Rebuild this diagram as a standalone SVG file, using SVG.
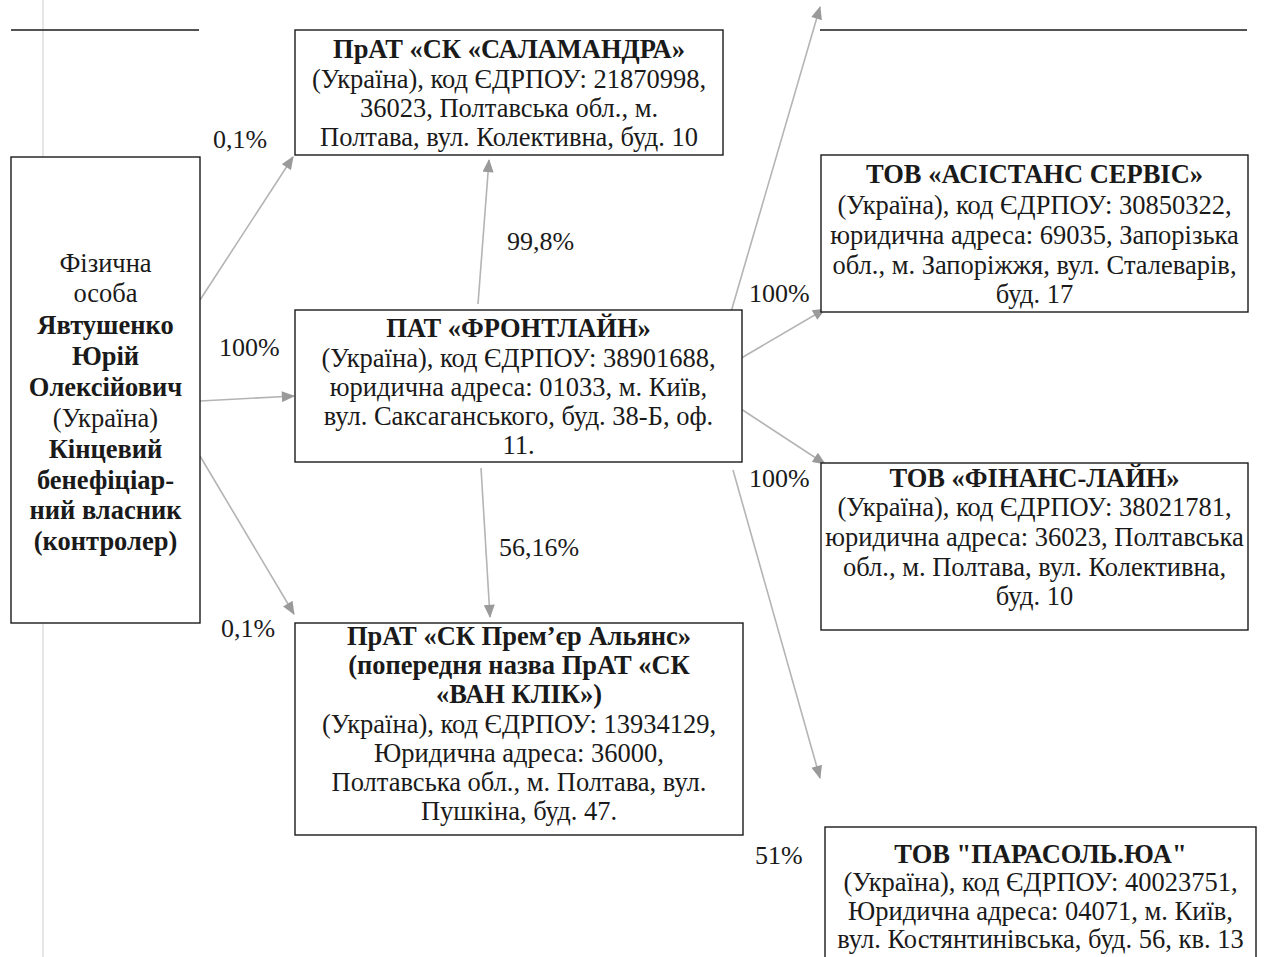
<svg xmlns="http://www.w3.org/2000/svg" width="1285" height="957" viewBox="0 0 1285 957">
<defs>
<style>
.box{fill:#fff;stroke:#1a1a1a;stroke-width:1.4}
.t{font-family:"Liberation Serif","Times New Roman",serif;font-size:26.5px;fill:#1a1a1a;text-anchor:middle}
.b{font-weight:bold}
.lbl{font-family:"Liberation Serif","Times New Roman",serif;font-size:26px;fill:#1a1a1a}
.con{stroke:#b4b4b4;stroke-width:1.6;fill:none;marker-end:url(#ah)}
.rule{stroke:#1a1a1a;stroke-width:1.3}
</style>
<marker id="ah" viewBox="0 0 12 10" refX="11" refY="5" markerWidth="14" markerHeight="11" markerUnits="userSpaceOnUse" orient="auto"><path d="M0,0 L12,5 L0,10 z" fill="#9a9a9a"/></marker>
</defs>
<rect width="1285" height="957" fill="#fff"/>
<line x1="43" y1="0" x2="43" y2="957" stroke="#e6e6e6" stroke-width="2"/>
<line class="rule" x1="11" y1="30" x2="199" y2="30"/>
<line class="rule" x1="820" y1="30" x2="1247" y2="30"/>

<g id="connectors">
<line class="con" x1="200" y1="300" x2="293" y2="157"/>
<line class="con" x1="200" y1="401" x2="294" y2="396"/>
<line class="con" x1="200" y1="456" x2="294" y2="614"/>
<line class="con" x1="478" y1="304" x2="489" y2="160"/>
<line class="con" x1="481" y1="468" x2="490" y2="617"/>
<line class="con" x1="731" y1="312" x2="820" y2="7"/>
<line class="con" x1="738" y1="360" x2="825" y2="309"/>
<line class="con" x1="738" y1="407" x2="825" y2="464"/>
<line class="con" x1="733" y1="470" x2="820" y2="778"/>
</g>

<g id="labels">
<text class="lbl" x="213" y="148">0,1%</text>
<text class="lbl" x="219" y="356">100%</text>
<text class="lbl" x="221" y="637">0,1%</text>
<text class="lbl" x="507" y="250">99,8%</text>
<text class="lbl" x="499" y="556">56,16%</text>
<text class="lbl" x="749" y="302">100%</text>
<text class="lbl" x="749" y="487">100%</text>
<text class="lbl" x="755" y="864">51%</text>
</g>

<g id="n-person">
<rect class="box" x="11" y="157" width="189" height="466"/>
<text class="t" x="105.5" y="272">Фізична</text>
<text class="t" x="105.5" y="302">особа</text>
<text class="t b" x="105.5" y="334">Явтушенко</text>
<text class="t b" x="105.5" y="365">Юрій</text>
<text class="t b" x="105.5" y="396">Олексійович</text>
<text class="t" x="105.5" y="427">(Україна)</text>
<text class="t b" x="105.5" y="458">Кінцевий</text>
<text class="t b" x="105.5" y="489">бенефіціар-</text>
<text class="t b" x="105.5" y="519">ний власник</text>
<text class="t b" x="105.5" y="550">(контролер)</text>
</g>

<g id="n-salamandra">
<rect class="box" x="295" y="30" width="428" height="125"/>
<text class="t b" x="509" y="58">ПрАТ «СК «САЛАМАНДРА»</text>
<text class="t" x="509" y="88">(Україна), код ЄДРПОУ: 21870998,</text>
<text class="t" x="509" y="117">36023, Полтавська обл., м.</text>
<text class="t" x="509" y="146">Полтава, вул. Колективна, буд. 10</text>
</g>

<g id="n-frontline">
<rect class="box" x="295" y="310" width="447" height="152"/>
<text class="t b" x="518.5" y="337">ПАТ «ФРОНТЛАЙН»</text>
<text class="t" x="518.5" y="367">(Україна), код ЄДРПОУ: 38901688,</text>
<text class="t" x="518.5" y="396">юридична адреса: 01033, м. Київ,</text>
<text class="t" x="518.5" y="425">вул. Саксаганського, буд. 38-Б, оф.</text>
<text class="t" x="518.5" y="454">11.</text>
</g>

<g id="n-premier">
<rect class="box" x="295" y="623" width="448" height="212"/>
<text class="t b" x="519" y="645">ПрАТ «СК Прем’єр Альянс»</text>
<text class="t b" x="519" y="674">(попередня назва ПрАТ «СК</text>
<text class="t b" x="519" y="703">«ВАН КЛІК»)</text>
<text class="t" x="519" y="733">(Україна), код ЄДРПОУ: 13934129,</text>
<text class="t" x="519" y="762">Юридична адреса: 36000,</text>
<text class="t" x="519" y="791">Полтавська обл., м. Полтава, вул.</text>
<text class="t" x="519" y="820">Пушкіна, буд. 47.</text>
</g>

<g id="n-asistans">
<rect class="box" x="821" y="155" width="427" height="157"/>
<text class="t b" x="1034.5" y="183">ТОВ «АСІСТАНС СЕРВІС»</text>
<text class="t" x="1034.5" y="214">(Україна), код ЄДРПОУ: 30850322,</text>
<text class="t" x="1034.5" y="244">юридична адреса: 69035, Запорізька</text>
<text class="t" x="1034.5" y="274">обл., м. Запоріжжя, вул. Сталеварів,</text>
<text class="t" x="1034.5" y="303">буд. 17</text>
</g>

<g id="n-finans">
<rect class="box" x="821" y="463" width="427" height="167"/>
<text class="t b" x="1034.5" y="487">ТОВ «ФІНАНС-ЛАЙН»</text>
<text class="t" x="1034.5" y="516">(Україна), код ЄДРПОУ: 38021781,</text>
<text class="t" x="1034.5" y="546">юридична адреса: 36023, Полтавська</text>
<text class="t" x="1034.5" y="576">обл., м. Полтава, вул. Колективна,</text>
<text class="t" x="1034.5" y="605">буд. 10</text>
</g>

<g id="n-parasol">
<rect class="box" x="825" y="827" width="431" height="150"/>
<text class="t b" x="1040.5" y="863">ТОВ "ПАРАСОЛЬ.ЮА"</text>
<text class="t" x="1040.5" y="891">(Україна), код ЄДРПОУ: 40023751,</text>
<text class="t" x="1040.5" y="920">Юридична адреса: 04071, м. Київ,</text>
<text class="t" x="1040.5" y="948">вул. Костянтинівська, буд. 56, кв. 13</text>
</g>
</svg>
